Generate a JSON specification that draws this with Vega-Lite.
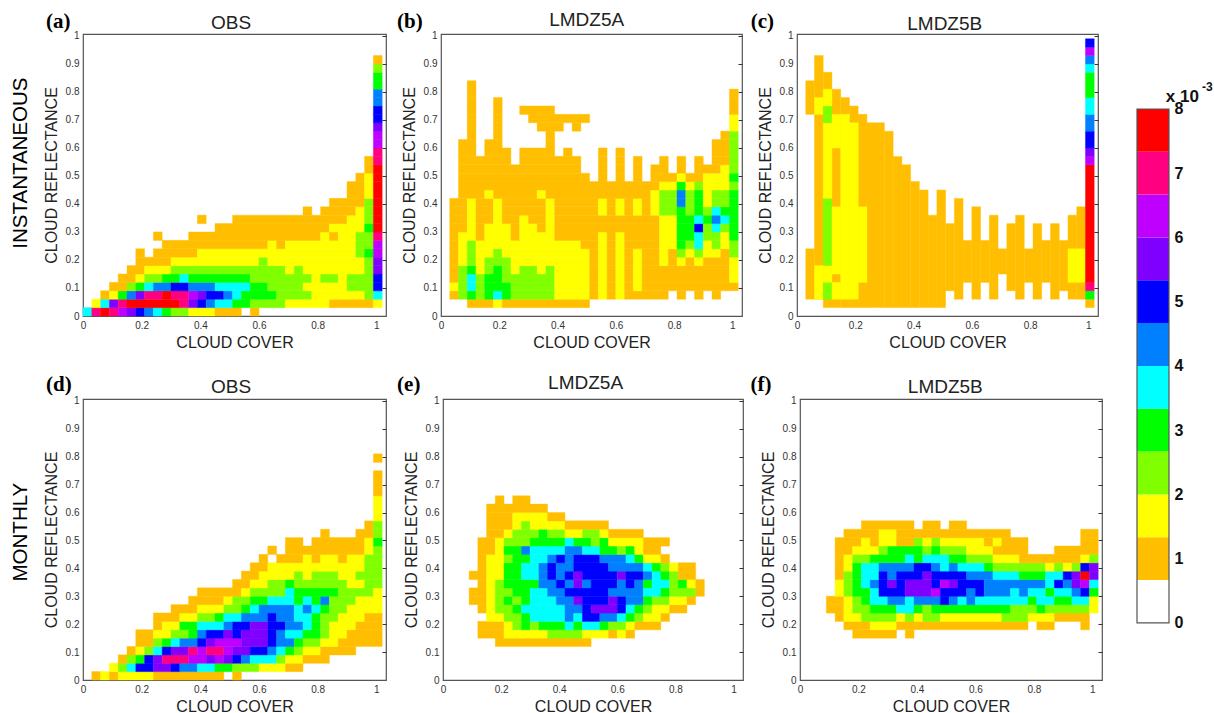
{"$schema":"https://vega.github.io/schema/vega-lite/v6.json","padding":{"left":10,"top":10,"right":0,"bottom":0},"background":"white","spacing":32,
"config":{"font":"Liberation Sans","view":{"stroke":"#555","strokeWidth":1.2},"range":{"ordinal":["#ffffff","#ffbf00","#ffff00","#80ff00","#00ff00","#00ffff","#0080ff","#0000ff","#8000ff","#bf00ff","#ff0080","#ff0000"]},"axis":{"grid":false,"domain":false,"ticks":false,"labelColor":"#333","labelFontSize":10,"labelPadding":4,"titleFontSize":16,"titleFontWeight":"normal","titleColor":"#222","labelFlush":false,"labelOverlap":false}},
"datasets":{
"a":[
{"x":0,"x2":0.03,"y":0,"v":5},{"x":0.03,"x2":0.06,"y":0,"v":10},{"x":0.06,"x2":0.09,"y":0,"v":11},{"x":0.09,"x2":0.12,"y":0,"v":10},{"x":0.12,"x2":0.15,"y":0,"v":9},{"x":0.15,"x2":0.18,"y":0,"v":8},{"x":0.18,"x2":0.21,"y":0,"v":7},{"x":0.21,"x2":0.24,"y":0,"v":6},{"x":0.24,"x2":0.27,"y":0,"v":5},{"x":0.27,"x2":0.3,"y":0,"v":4},{"x":0.3,"x2":0.36,"y":0,"v":3},{"x":0.36,"x2":0.45,"y":0,"v":2},{"x":0.45,"x2":0.54,"y":0,"v":1},{"x":0.57,"x2":0.6,"y":0,"v":1},
{"x":0.03,"x2":0.06,"y":0.03,"v":2},{"x":0.06,"x2":0.09,"y":0.03,"v":5},{"x":0.09,"x2":0.12,"y":0.03,"v":8},{"x":0.12,"x2":0.15,"y":0.03,"v":10},{"x":0.15,"x2":0.33,"y":0.03,"v":11},{"x":0.33,"x2":0.36,"y":0.03,"v":10},{"x":0.36,"x2":0.39,"y":0.03,"v":8},{"x":0.39,"x2":0.42,"y":0.03,"v":7},{"x":0.42,"x2":0.45,"y":0.03,"v":6},{"x":0.45,"x2":0.51,"y":0.03,"v":5},{"x":0.51,"x2":0.57,"y":0.03,"v":4},{"x":0.57,"x2":0.69,"y":0.03,"v":3},{"x":0.69,"x2":0.84,"y":0.03,"v":2},{"x":0.84,"x2":0.99,"y":0.03,"v":1},{"x":0.99,"x2":1.02,"y":0.03,"v":2},
{"x":0.06,"x2":0.09,"y":0.06,"v":1},{"x":0.09,"x2":0.12,"y":0.06,"v":2},{"x":0.12,"x2":0.15,"y":0.06,"v":4},{"x":0.15,"x2":0.18,"y":0.06,"v":6},{"x":0.18,"x2":0.21,"y":0.06,"v":8},{"x":0.21,"x2":0.27,"y":0.06,"v":10},{"x":0.27,"x2":0.3,"y":0.06,"v":11},{"x":0.3,"x2":0.36,"y":0.06,"v":10},{"x":0.36,"x2":0.39,"y":0.06,"v":9},{"x":0.39,"x2":0.42,"y":0.06,"v":8},{"x":0.42,"x2":0.48,"y":0.06,"v":7},{"x":0.48,"x2":0.51,"y":0.06,"v":6},{"x":0.51,"x2":0.54,"y":0.06,"v":5},{"x":0.54,"x2":0.66,"y":0.06,"v":4},{"x":0.66,"x2":0.78,"y":0.06,"v":3},{"x":0.78,"x2":0.96,"y":0.06,"v":2},{"x":0.96,"x2":0.99,"y":0.06,"v":3},{"x":0.99,"x2":1.02,"y":0.06,"v":5},
{"x":0.09,"x2":0.15,"y":0.09,"v":1},{"x":0.15,"x2":0.18,"y":0.09,"v":3},{"x":0.18,"x2":0.21,"y":0.09,"v":4},{"x":0.21,"x2":0.24,"y":0.09,"v":5},{"x":0.24,"x2":0.3,"y":0.09,"v":6},{"x":0.3,"x2":0.36,"y":0.09,"v":7},{"x":0.36,"x2":0.45,"y":0.09,"v":6},{"x":0.45,"x2":0.57,"y":0.09,"v":5},{"x":0.57,"x2":0.63,"y":0.09,"v":4},{"x":0.63,"x2":0.75,"y":0.09,"v":3},{"x":0.75,"x2":0.9,"y":0.09,"v":2},{"x":0.9,"x2":0.99,"y":0.09,"v":3},{"x":0.99,"x2":1.02,"y":0.09,"v":7},
{"x":0.12,"x2":0.18,"y":0.12,"v":1},{"x":0.18,"x2":0.21,"y":0.12,"v":2},{"x":0.21,"x2":0.27,"y":0.12,"v":3},{"x":0.27,"x2":0.33,"y":0.12,"v":4},{"x":0.33,"x2":0.36,"y":0.12,"v":5},{"x":0.36,"x2":0.57,"y":0.12,"v":4},{"x":0.57,"x2":0.78,"y":0.12,"v":3},{"x":0.78,"x2":0.81,"y":0.12,"v":2},{"x":0.81,"x2":0.87,"y":0.12,"v":3},{"x":0.87,"x2":0.9,"y":0.12,"v":2},{"x":0.9,"x2":0.99,"y":0.12,"v":3},{"x":0.99,"x2":1.02,"y":0.12,"v":7},
{"x":0.15,"x2":0.21,"y":0.15,"v":1},{"x":0.21,"x2":0.3,"y":0.15,"v":2},{"x":0.3,"x2":0.69,"y":0.15,"v":3},{"x":0.69,"x2":0.72,"y":0.15,"v":2},{"x":0.72,"x2":0.75,"y":0.15,"v":3},{"x":0.75,"x2":0.96,"y":0.15,"v":2},{"x":0.96,"x2":0.99,"y":0.15,"v":3},{"x":0.99,"x2":1.02,"y":0.15,"v":8},
{"x":0.18,"x2":0.3,"y":0.18,"v":1},{"x":0.3,"x2":0.6,"y":0.18,"v":2},{"x":0.6,"x2":0.63,"y":0.18,"v":3},{"x":0.63,"x2":0.96,"y":0.18,"v":2},{"x":0.96,"x2":0.99,"y":0.18,"v":3},{"x":0.99,"x2":1.02,"y":0.18,"v":8},
{"x":0.18,"x2":0.21,"y":0.21,"v":1},{"x":0.24,"x2":0.39,"y":0.21,"v":1},{"x":0.39,"x2":0.93,"y":0.21,"v":2},{"x":0.93,"x2":0.96,"y":0.21,"v":3},{"x":0.96,"x2":0.99,"y":0.21,"v":4},{"x":0.99,"x2":1.02,"y":0.21,"v":9},
{"x":0.27,"x2":0.63,"y":0.24,"v":1},{"x":0.63,"x2":0.66,"y":0.24,"v":2},{"x":0.66,"x2":0.69,"y":0.24,"v":1},{"x":0.69,"x2":0.93,"y":0.24,"v":2},{"x":0.93,"x2":0.99,"y":0.24,"v":3},{"x":0.99,"x2":1.02,"y":0.24,"v":9},
{"x":0.24,"x2":0.27,"y":0.27,"v":1},{"x":0.36,"x2":0.81,"y":0.27,"v":1},{"x":0.81,"x2":0.84,"y":0.27,"v":2},{"x":0.84,"x2":0.87,"y":0.27,"v":1},{"x":0.87,"x2":0.93,"y":0.27,"v":2},{"x":0.93,"x2":0.99,"y":0.27,"v":3},{"x":0.99,"x2":1.02,"y":0.27,"v":10},
{"x":0.45,"x2":0.84,"y":0.3,"v":1},{"x":0.84,"x2":0.96,"y":0.3,"v":2},{"x":0.96,"x2":0.99,"y":0.3,"v":4},{"x":0.99,"x2":1.02,"y":0.3,"v":11},
{"x":0.39,"x2":0.42,"y":0.33,"v":1},{"x":0.51,"x2":0.9,"y":0.33,"v":1},{"x":0.9,"x2":0.96,"y":0.33,"v":2},{"x":0.96,"x2":0.99,"y":0.33,"v":3},{"x":0.99,"x2":1.02,"y":0.33,"v":11},
{"x":0.75,"x2":0.78,"y":0.36,"v":1},{"x":0.81,"x2":0.93,"y":0.36,"v":1},{"x":0.93,"x2":0.96,"y":0.36,"v":2},{"x":0.96,"x2":0.99,"y":0.36,"v":3},{"x":0.99,"x2":1.02,"y":0.36,"v":11},
{"x":0.84,"x2":0.96,"y":0.39,"v":1},{"x":0.96,"x2":0.99,"y":0.39,"v":3},{"x":0.99,"x2":1.02,"y":0.39,"v":11},
{"x":0.9,"x2":0.96,"y":0.42,"v":1},{"x":0.96,"x2":0.99,"y":0.42,"v":2},{"x":0.99,"x2":1.02,"y":0.42,"v":11},
{"x":0.9,"x2":0.96,"y":0.45,"v":1},{"x":0.96,"x2":0.99,"y":0.45,"v":2},{"x":0.99,"x2":1.02,"y":0.45,"v":11},
{"x":0.93,"x2":0.96,"y":0.48,"v":1},{"x":0.96,"x2":0.99,"y":0.48,"v":2},{"x":0.99,"x2":1.02,"y":0.48,"v":11},
{"x":0.96,"x2":0.99,"y":0.51,"v":1},{"x":0.99,"x2":1.02,"y":0.51,"v":11},
{"x":0.96,"x2":0.99,"y":0.54,"v":1},{"x":0.99,"x2":1.02,"y":0.54,"v":10},
{"x":0.99,"x2":1.02,"y":0.57,"v":10},{"x":0.99,"x2":1.02,"y":0.6,"v":9},{"x":0.99,"x2":1.02,"y":0.63,"v":9},{"x":0.99,"x2":1.02,"y":0.66,"v":8},{"x":0.99,"x2":1.02,"y":0.69,"v":7},{"x":0.99,"x2":1.02,"y":0.72,"v":7},{"x":0.99,"x2":1.02,"y":0.75,"v":6},{"x":0.99,"x2":1.02,"y":0.78,"v":6},{"x":0.99,"x2":1.02,"y":0.81,"v":4},{"x":0.99,"x2":1.02,"y":0.84,"v":4},{"x":0.99,"x2":1.02,"y":0.87,"v":3},{"x":0.99,"x2":1.02,"y":0.9,"v":1}
],
"b":[
{"x":0.09,"x2":0.18,"y":0.03,"v":1},{"x":0.18,"x2":0.21,"y":0.03,"v":2},{"x":0.21,"x2":0.51,"y":0.03,"v":1},
{"x":0.03,"x2":0.06,"y":0.06,"v":1},{"x":0.06,"x2":0.09,"y":0.06,"v":3},{"x":0.09,"x2":0.12,"y":0.06,"v":4},{"x":0.12,"x2":0.15,"y":0.06,"v":3},{"x":0.15,"x2":0.18,"y":0.06,"v":4},{"x":0.18,"x2":0.21,"y":0.06,"v":5},{"x":0.21,"x2":0.24,"y":0.06,"v":4},{"x":0.24,"x2":0.39,"y":0.06,"v":3},{"x":0.39,"x2":0.51,"y":0.06,"v":2},{"x":0.51,"x2":0.54,"y":0.06,"v":1},{"x":0.54,"x2":0.57,"y":0.06,"v":2},{"x":0.57,"x2":0.6,"y":0.06,"v":1},{"x":0.6,"x2":0.63,"y":0.06,"v":2},{"x":0.63,"x2":0.78,"y":0.06,"v":1},{"x":0.81,"x2":0.84,"y":0.06,"v":1},{"x":0.87,"x2":0.9,"y":0.06,"v":1},{"x":0.93,"x2":0.96,"y":0.06,"v":1},
{"x":0.03,"x2":0.06,"y":0.09,"v":2},{"x":0.06,"x2":0.09,"y":0.09,"v":3},{"x":0.09,"x2":0.12,"y":0.09,"v":5},{"x":0.12,"x2":0.15,"y":0.09,"v":3},{"x":0.15,"x2":0.24,"y":0.09,"v":4},{"x":0.24,"x2":0.39,"y":0.09,"v":3},{"x":0.39,"x2":0.51,"y":0.09,"v":2},{"x":0.51,"x2":0.54,"y":0.09,"v":1},{"x":0.54,"x2":0.57,"y":0.09,"v":2},{"x":0.57,"x2":0.6,"y":0.09,"v":1},{"x":0.6,"x2":0.63,"y":0.09,"v":2},{"x":0.63,"x2":0.66,"y":0.09,"v":1},{"x":0.66,"x2":0.69,"y":0.09,"v":2},{"x":0.69,"x2":1.02,"y":0.09,"v":1},
{"x":0.03,"x2":0.06,"y":0.12,"v":1},{"x":0.06,"x2":0.09,"y":0.12,"v":3},{"x":0.09,"x2":0.12,"y":0.12,"v":5},{"x":0.12,"x2":0.15,"y":0.12,"v":3},{"x":0.15,"x2":0.21,"y":0.12,"v":4},{"x":0.21,"x2":0.39,"y":0.12,"v":3},{"x":0.39,"x2":0.51,"y":0.12,"v":2},{"x":0.51,"x2":0.54,"y":0.12,"v":1},{"x":0.54,"x2":0.57,"y":0.12,"v":2},{"x":0.57,"x2":0.6,"y":0.12,"v":1},{"x":0.6,"x2":0.63,"y":0.12,"v":2},{"x":0.63,"x2":0.66,"y":0.12,"v":1},{"x":0.66,"x2":0.69,"y":0.12,"v":2},{"x":0.69,"x2":0.99,"y":0.12,"v":1},{"x":0.99,"x2":1.02,"y":0.12,"v":2},
{"x":0.03,"x2":0.06,"y":0.15,"v":1},{"x":0.06,"x2":0.09,"y":0.15,"v":3},{"x":0.09,"x2":0.12,"y":0.15,"v":4},{"x":0.12,"x2":0.15,"y":0.15,"v":2},{"x":0.15,"x2":0.18,"y":0.15,"v":3},{"x":0.18,"x2":0.21,"y":0.15,"v":4},{"x":0.21,"x2":0.24,"y":0.15,"v":3},{"x":0.24,"x2":0.27,"y":0.15,"v":2},{"x":0.27,"x2":0.33,"y":0.15,"v":3},{"x":0.33,"x2":0.36,"y":0.15,"v":2},{"x":0.36,"x2":0.39,"y":0.15,"v":3},{"x":0.39,"x2":0.51,"y":0.15,"v":2},{"x":0.51,"x2":0.54,"y":0.15,"v":1},{"x":0.54,"x2":0.57,"y":0.15,"v":2},{"x":0.57,"x2":0.6,"y":0.15,"v":1},{"x":0.6,"x2":0.63,"y":0.15,"v":2},{"x":0.63,"x2":0.66,"y":0.15,"v":1},{"x":0.66,"x2":0.69,"y":0.15,"v":2},{"x":0.69,"x2":0.99,"y":0.15,"v":1},{"x":0.99,"x2":1.02,"y":0.15,"v":2},
{"x":0.03,"x2":0.06,"y":0.18,"v":1},{"x":0.06,"x2":0.09,"y":0.18,"v":2},{"x":0.09,"x2":0.12,"y":0.18,"v":3},{"x":0.12,"x2":0.15,"y":0.18,"v":2},{"x":0.15,"x2":0.24,"y":0.18,"v":3},{"x":0.24,"x2":0.51,"y":0.18,"v":2},{"x":0.51,"x2":0.54,"y":0.18,"v":1},{"x":0.54,"x2":0.57,"y":0.18,"v":2},{"x":0.57,"x2":0.6,"y":0.18,"v":1},{"x":0.6,"x2":0.63,"y":0.18,"v":2},{"x":0.63,"x2":0.66,"y":0.18,"v":1},{"x":0.66,"x2":0.69,"y":0.18,"v":2},{"x":0.69,"x2":0.75,"y":0.18,"v":1},{"x":0.75,"x2":0.78,"y":0.18,"v":2},{"x":0.78,"x2":0.81,"y":0.18,"v":1},{"x":0.81,"x2":0.84,"y":0.18,"v":2},{"x":0.84,"x2":0.87,"y":0.18,"v":1},{"x":0.87,"x2":0.9,"y":0.18,"v":2},{"x":0.9,"x2":0.99,"y":0.18,"v":1},{"x":0.99,"x2":1.02,"y":0.18,"v":2},
{"x":0.03,"x2":0.06,"y":0.21,"v":1},{"x":0.06,"x2":0.09,"y":0.21,"v":2},{"x":0.09,"x2":0.12,"y":0.21,"v":3},{"x":0.12,"x2":0.18,"y":0.21,"v":2},{"x":0.18,"x2":0.21,"y":0.21,"v":3},{"x":0.21,"x2":0.51,"y":0.21,"v":2},{"x":0.51,"x2":0.54,"y":0.21,"v":1},{"x":0.54,"x2":0.57,"y":0.21,"v":2},{"x":0.57,"x2":0.6,"y":0.21,"v":1},{"x":0.6,"x2":0.63,"y":0.21,"v":2},{"x":0.63,"x2":0.66,"y":0.21,"v":1},{"x":0.66,"x2":0.69,"y":0.21,"v":2},{"x":0.69,"x2":0.75,"y":0.21,"v":1},{"x":0.75,"x2":0.78,"y":0.21,"v":2},{"x":0.78,"x2":0.81,"y":0.21,"v":1},{"x":0.81,"x2":0.84,"y":0.21,"v":3},{"x":0.84,"x2":0.87,"y":0.21,"v":2},{"x":0.87,"x2":0.9,"y":0.21,"v":3},{"x":0.9,"x2":0.96,"y":0.21,"v":2},{"x":0.96,"x2":0.99,"y":0.21,"v":1},{"x":0.99,"x2":1.02,"y":0.21,"v":3},
{"x":0.03,"x2":0.06,"y":0.24,"v":1},{"x":0.06,"x2":0.09,"y":0.24,"v":2},{"x":0.09,"x2":0.12,"y":0.24,"v":3},{"x":0.12,"x2":0.48,"y":0.24,"v":2},{"x":0.48,"x2":0.54,"y":0.24,"v":1},{"x":0.54,"x2":0.57,"y":0.24,"v":2},{"x":0.57,"x2":0.6,"y":0.24,"v":1},{"x":0.6,"x2":0.63,"y":0.24,"v":2},{"x":0.63,"x2":0.75,"y":0.24,"v":1},{"x":0.75,"x2":0.81,"y":0.24,"v":2},{"x":0.81,"x2":0.84,"y":0.24,"v":4},{"x":0.84,"x2":0.87,"y":0.24,"v":3},{"x":0.87,"x2":0.9,"y":0.24,"v":5},{"x":0.9,"x2":0.93,"y":0.24,"v":2},{"x":0.93,"x2":0.96,"y":0.24,"v":3},{"x":0.96,"x2":0.99,"y":0.24,"v":2},{"x":0.99,"x2":1.02,"y":0.24,"v":3},
{"x":0.03,"x2":0.06,"y":0.27,"v":1},{"x":0.06,"x2":0.12,"y":0.27,"v":2},{"x":0.12,"x2":0.15,"y":0.27,"v":1},{"x":0.15,"x2":0.24,"y":0.27,"v":2},{"x":0.24,"x2":0.27,"y":0.27,"v":1},{"x":0.27,"x2":0.39,"y":0.27,"v":2},{"x":0.39,"x2":0.54,"y":0.27,"v":1},{"x":0.54,"x2":0.57,"y":0.27,"v":2},{"x":0.57,"x2":0.6,"y":0.27,"v":1},{"x":0.6,"x2":0.63,"y":0.27,"v":2},{"x":0.63,"x2":0.75,"y":0.27,"v":1},{"x":0.75,"x2":0.81,"y":0.27,"v":2},{"x":0.81,"x2":0.87,"y":0.27,"v":4},{"x":0.87,"x2":0.9,"y":0.27,"v":5},{"x":0.9,"x2":0.96,"y":0.27,"v":3},{"x":0.96,"x2":0.99,"y":0.27,"v":2},{"x":0.99,"x2":1.02,"y":0.27,"v":4},
{"x":0.03,"x2":0.09,"y":0.3,"v":1},{"x":0.09,"x2":0.12,"y":0.3,"v":2},{"x":0.12,"x2":0.15,"y":0.3,"v":1},{"x":0.15,"x2":0.24,"y":0.3,"v":2},{"x":0.24,"x2":0.27,"y":0.3,"v":1},{"x":0.27,"x2":0.33,"y":0.3,"v":2},{"x":0.33,"x2":0.36,"y":0.3,"v":1},{"x":0.36,"x2":0.39,"y":0.3,"v":2},{"x":0.39,"x2":0.75,"y":0.3,"v":1},{"x":0.75,"x2":0.81,"y":0.3,"v":2},{"x":0.81,"x2":0.87,"y":0.3,"v":4},{"x":0.87,"x2":0.9,"y":0.3,"v":7},{"x":0.9,"x2":0.93,"y":0.3,"v":3},{"x":0.93,"x2":0.96,"y":0.3,"v":5},{"x":0.96,"x2":0.99,"y":0.3,"v":3},{"x":0.99,"x2":1.02,"y":0.3,"v":4},
{"x":0.03,"x2":0.09,"y":0.33,"v":1},{"x":0.09,"x2":0.12,"y":0.33,"v":2},{"x":0.12,"x2":0.18,"y":0.33,"v":1},{"x":0.18,"x2":0.21,"y":0.33,"v":2},{"x":0.21,"x2":0.27,"y":0.33,"v":1},{"x":0.27,"x2":0.3,"y":0.33,"v":2},{"x":0.3,"x2":0.36,"y":0.33,"v":1},{"x":0.36,"x2":0.39,"y":0.33,"v":2},{"x":0.39,"x2":0.75,"y":0.33,"v":1},{"x":0.75,"x2":0.81,"y":0.33,"v":2},{"x":0.81,"x2":0.87,"y":0.33,"v":4},{"x":0.87,"x2":0.9,"y":0.33,"v":5},{"x":0.9,"x2":0.93,"y":0.33,"v":4},{"x":0.93,"x2":0.96,"y":0.33,"v":6},{"x":0.96,"x2":0.99,"y":0.33,"v":5},{"x":0.99,"x2":1.02,"y":0.33,"v":4},
{"x":0.03,"x2":0.09,"y":0.36,"v":1},{"x":0.09,"x2":0.12,"y":0.36,"v":2},{"x":0.12,"x2":0.18,"y":0.36,"v":1},{"x":0.18,"x2":0.21,"y":0.36,"v":2},{"x":0.21,"x2":0.36,"y":0.36,"v":1},{"x":0.36,"x2":0.39,"y":0.36,"v":2},{"x":0.39,"x2":0.54,"y":0.36,"v":1},{"x":0.54,"x2":0.57,"y":0.36,"v":2},{"x":0.57,"x2":0.6,"y":0.36,"v":1},{"x":0.6,"x2":0.63,"y":0.36,"v":2},{"x":0.63,"x2":0.66,"y":0.36,"v":1},{"x":0.66,"x2":0.69,"y":0.36,"v":2},{"x":0.69,"x2":0.72,"y":0.36,"v":1},{"x":0.72,"x2":0.75,"y":0.36,"v":2},{"x":0.75,"x2":0.81,"y":0.36,"v":3},{"x":0.81,"x2":0.84,"y":0.36,"v":4},{"x":0.84,"x2":0.87,"y":0.36,"v":3},{"x":0.87,"x2":0.9,"y":0.36,"v":4},{"x":0.9,"x2":0.93,"y":0.36,"v":3},{"x":0.93,"x2":0.96,"y":0.36,"v":5},{"x":0.96,"x2":1.02,"y":0.36,"v":4},
{"x":0.03,"x2":0.09,"y":0.39,"v":1},{"x":0.09,"x2":0.12,"y":0.39,"v":2},{"x":0.12,"x2":0.18,"y":0.39,"v":1},{"x":0.18,"x2":0.21,"y":0.39,"v":2},{"x":0.21,"x2":0.36,"y":0.39,"v":1},{"x":0.36,"x2":0.39,"y":0.39,"v":2},{"x":0.39,"x2":0.54,"y":0.39,"v":1},{"x":0.54,"x2":0.57,"y":0.39,"v":2},{"x":0.57,"x2":0.6,"y":0.39,"v":1},{"x":0.6,"x2":0.63,"y":0.39,"v":2},{"x":0.63,"x2":0.66,"y":0.39,"v":1},{"x":0.66,"x2":0.69,"y":0.39,"v":2},{"x":0.69,"x2":0.72,"y":0.39,"v":1},{"x":0.72,"x2":0.75,"y":0.39,"v":2},{"x":0.75,"x2":0.81,"y":0.39,"v":3},{"x":0.81,"x2":0.84,"y":0.39,"v":6},{"x":0.84,"x2":0.87,"y":0.39,"v":3},{"x":0.87,"x2":0.9,"y":0.39,"v":4},{"x":0.9,"x2":0.93,"y":0.39,"v":2},{"x":0.93,"x2":0.99,"y":0.39,"v":3},{"x":0.99,"x2":1.02,"y":0.39,"v":4},
{"x":0.06,"x2":0.15,"y":0.42,"v":1},{"x":0.15,"x2":0.18,"y":0.42,"v":2},{"x":0.18,"x2":0.33,"y":0.42,"v":1},{"x":0.33,"x2":0.36,"y":0.42,"v":2},{"x":0.36,"x2":0.72,"y":0.42,"v":1},{"x":0.72,"x2":0.75,"y":0.42,"v":2},{"x":0.75,"x2":0.81,"y":0.42,"v":3},{"x":0.81,"x2":0.84,"y":0.42,"v":6},{"x":0.84,"x2":0.87,"y":0.42,"v":3},{"x":0.87,"x2":0.9,"y":0.42,"v":4},{"x":0.9,"x2":0.93,"y":0.42,"v":2},{"x":0.93,"x2":0.99,"y":0.42,"v":3},{"x":0.99,"x2":1.02,"y":0.42,"v":4},
{"x":0.06,"x2":0.75,"y":0.45,"v":1},{"x":0.75,"x2":0.81,"y":0.45,"v":2},{"x":0.81,"x2":0.84,"y":0.45,"v":4},{"x":0.84,"x2":0.87,"y":0.45,"v":2},{"x":0.87,"x2":0.9,"y":0.45,"v":3},{"x":0.9,"x2":0.99,"y":0.45,"v":2},{"x":0.99,"x2":1.02,"y":0.45,"v":3},
{"x":0.06,"x2":0.51,"y":0.48,"v":1},{"x":0.54,"x2":0.57,"y":0.48,"v":1},{"x":0.6,"x2":0.63,"y":0.48,"v":1},{"x":0.66,"x2":0.69,"y":0.48,"v":1},{"x":0.72,"x2":0.81,"y":0.48,"v":1},{"x":0.81,"x2":0.84,"y":0.48,"v":2},{"x":0.84,"x2":0.9,"y":0.48,"v":1},{"x":0.9,"x2":0.99,"y":0.48,"v":2},{"x":0.99,"x2":1.02,"y":0.48,"v":4},
{"x":0.06,"x2":0.48,"y":0.51,"v":1},{"x":0.54,"x2":0.57,"y":0.51,"v":1},{"x":0.6,"x2":0.63,"y":0.51,"v":1},{"x":0.66,"x2":0.69,"y":0.51,"v":1},{"x":0.72,"x2":0.78,"y":0.51,"v":1},{"x":0.81,"x2":0.84,"y":0.51,"v":1},{"x":0.87,"x2":0.96,"y":0.51,"v":1},{"x":0.96,"x2":0.99,"y":0.51,"v":2},{"x":0.99,"x2":1.02,"y":0.51,"v":3},
{"x":0.06,"x2":0.24,"y":0.54,"v":1},{"x":0.27,"x2":0.48,"y":0.54,"v":1},{"x":0.54,"x2":0.57,"y":0.54,"v":1},{"x":0.6,"x2":0.63,"y":0.54,"v":1},{"x":0.66,"x2":0.69,"y":0.54,"v":1},{"x":0.75,"x2":0.78,"y":0.54,"v":1},{"x":0.81,"x2":0.84,"y":0.54,"v":1},{"x":0.87,"x2":0.9,"y":0.54,"v":1},{"x":0.93,"x2":0.99,"y":0.54,"v":1},{"x":0.99,"x2":1.02,"y":0.54,"v":3},
{"x":0.06,"x2":0.12,"y":0.57,"v":1},{"x":0.15,"x2":0.24,"y":0.57,"v":1},{"x":0.27,"x2":0.39,"y":0.57,"v":1},{"x":0.42,"x2":0.45,"y":0.57,"v":1},{"x":0.54,"x2":0.57,"y":0.57,"v":1},{"x":0.6,"x2":0.63,"y":0.57,"v":1},{"x":0.93,"x2":0.99,"y":0.57,"v":1},{"x":0.99,"x2":1.02,"y":0.57,"v":3},
{"x":0.06,"x2":0.12,"y":0.6,"v":1},{"x":0.15,"x2":0.21,"y":0.6,"v":1},{"x":0.36,"x2":0.39,"y":0.6,"v":1},{"x":0.93,"x2":0.99,"y":0.6,"v":1},{"x":0.99,"x2":1.02,"y":0.6,"v":3},
{"x":0.09,"x2":0.12,"y":0.63,"v":1},{"x":0.18,"x2":0.21,"y":0.63,"v":1},{"x":0.36,"x2":0.39,"y":0.63,"v":1},{"x":0.96,"x2":0.99,"y":0.63,"v":1},{"x":0.99,"x2":1.02,"y":0.63,"v":3},
{"x":0.09,"x2":0.12,"y":0.66,"v":1},{"x":0.18,"x2":0.21,"y":0.66,"v":1},{"x":0.33,"x2":0.42,"y":0.66,"v":1},{"x":0.45,"x2":0.48,"y":0.66,"v":1},{"x":0.99,"x2":1.02,"y":0.66,"v":2},
{"x":0.09,"x2":0.12,"y":0.69,"v":1},{"x":0.18,"x2":0.21,"y":0.69,"v":1},{"x":0.3,"x2":0.51,"y":0.69,"v":1},{"x":0.99,"x2":1.02,"y":0.69,"v":2},
{"x":0.09,"x2":0.12,"y":0.72,"v":1},{"x":0.18,"x2":0.21,"y":0.72,"v":1},{"x":0.27,"x2":0.39,"y":0.72,"v":1},{"x":0.99,"x2":1.02,"y":0.72,"v":1},
{"x":0.09,"x2":0.12,"y":0.75,"v":1},{"x":0.18,"x2":0.21,"y":0.75,"v":1},{"x":0.99,"x2":1.02,"y":0.75,"v":1},
{"x":0.09,"x2":0.12,"y":0.78,"v":1},{"x":0.99,"x2":1.02,"y":0.78,"v":1},
{"x":0.09,"x2":0.12,"y":0.81,"v":1}
],
"c":[
{"x":0.03,"x2":0.06,"y":0.06,"y2":0.24,"v":1},{"x":0.03,"x2":0.06,"y":0.72,"y2":0.84,"v":1},{"x":0.06,"x2":0.09,"y":0.06,"y2":0.93,"v":1},{"x":0.09,"x2":0.12,"y":0.03,"y2":0.87,"v":1},{"x":0.12,"x2":0.15,"y":0.03,"y2":0.81,"v":1},{"x":0.15,"x2":0.18,"y":0.03,"y2":0.78,"v":1},{"x":0.18,"x2":0.21,"y":0.03,"y2":0.75,"v":1},{"x":0.21,"x2":0.24,"y":0.03,"y2":0.72,"v":1},{"x":0.24,"x2":0.3,"y":0.03,"y2":0.69,"v":1},{"x":0.3,"x2":0.33,"y":0.03,"y2":0.66,"v":1},{"x":0.33,"x2":0.36,"y":0.03,"y2":0.57,"v":1},{"x":0.36,"x2":0.39,"y":0.03,"y2":0.54,"v":1},{"x":0.39,"x2":0.42,"y":0.03,"y2":0.48,"v":1},{"x":0.42,"x2":0.45,"y":0.03,"y2":0.45,"v":1},{"x":0.45,"x2":0.48,"y":0.03,"y2":0.36,"v":1},{"x":0.48,"x2":0.51,"y":0.03,"y2":0.45,"v":1},{"x":0.51,"x2":0.54,"y":0.09,"y2":0.33,"v":1},{"x":0.54,"x2":0.57,"y":0.06,"y2":0.42,"v":1},{"x":0.57,"x2":0.6,"y":0.12,"y2":0.27,"v":1},{"x":0.6,"x2":0.63,"y":0.06,"y2":0.39,"v":1},{"x":0.63,"x2":0.66,"y":0.12,"y2":0.27,"v":1},{"x":0.66,"x2":0.69,"y":0.06,"y2":0.36,"v":1},{"x":0.69,"x2":0.72,"y":0.15,"y2":0.24,"v":1},{"x":0.72,"x2":0.75,"y":0.09,"y2":0.33,"v":1},{"x":0.75,"x2":0.78,"y":0.06,"y2":0.36,"v":1},{"x":0.78,"x2":0.81,"y":0.12,"y2":0.24,"v":1},{"x":0.81,"x2":0.84,"y":0.06,"y2":0.33,"v":1},{"x":0.84,"x2":0.87,"y":0.12,"y2":0.27,"v":1},{"x":0.87,"x2":0.9,"y":0.06,"y2":0.33,"v":1},{"x":0.9,"x2":0.93,"y":0.09,"y2":0.27,"v":1},{"x":0.93,"x2":0.96,"y":0.06,"y2":0.36,"v":1},{"x":0.96,"x2":0.99,"y":0.06,"y2":0.39,"v":1},
{"x":0.06,"x2":0.09,"y":0.06,"y2":0.18,"v":2},{"x":0.06,"x2":0.09,"y":0.72,"y2":0.78,"v":2},{"x":0.09,"x2":0.12,"y":0.06,"y2":0.12,"v":3},{"x":0.09,"x2":0.12,"y":0.12,"y2":0.18,"v":2},{"x":0.09,"x2":0.12,"y":0.18,"y2":0.42,"v":3},{"x":0.09,"x2":0.12,"y":0.42,"y2":0.69,"v":2},{"x":0.09,"x2":0.12,"y":0.69,"y2":0.75,"v":3},{"x":0.09,"x2":0.12,"y":0.75,"y2":0.81,"v":2},{"x":0.12,"x2":0.15,"y":0.06,"y2":0.12,"v":2},{"x":0.12,"x2":0.15,"y":0.15,"y2":0.39,"v":2},{"x":0.12,"x2":0.15,"y":0.6,"y2":0.72,"v":2},{"x":0.15,"x2":0.18,"y":0.06,"y2":0.72,"v":2},{"x":0.18,"x2":0.21,"y":0.06,"y2":0.69,"v":2},{"x":0.21,"x2":0.24,"y":0.12,"y2":0.39,"v":2},{"x":0.93,"x2":0.99,"y":0.12,"y2":0.24,"v":2},
{"x":0.99,"x2":1.02,"y":0.03,"y2":0.06,"v":1},{"x":0.99,"x2":1.02,"y":0.06,"y2":0.09,"v":4},{"x":0.99,"x2":1.02,"y":0.09,"y2":0.12,"v":10},{"x":0.99,"x2":1.02,"y":0.12,"y2":0.54,"v":11},{"x":0.99,"x2":1.02,"y":0.54,"y2":0.57,"v":9},{"x":0.99,"x2":1.02,"y":0.57,"y2":0.6,"v":8},{"x":0.99,"x2":1.02,"y":0.6,"y2":0.66,"v":7},{"x":0.99,"x2":1.02,"y":0.66,"y2":0.72,"v":6},{"x":0.99,"x2":1.02,"y":0.72,"y2":0.78,"v":5},{"x":0.99,"x2":1.02,"y":0.78,"y2":0.87,"v":4},{"x":0.99,"x2":1.02,"y":0.87,"y2":0.9,"v":5},{"x":0.99,"x2":1.02,"y":0.9,"y2":0.93,"v":6},{"x":0.99,"x2":1.02,"y":0.93,"y2":0.96,"v":9},{"x":0.99,"x2":1.02,"y":0.96,"y2":0.99,"v":7}
],
"d":[
{"x":0.03,"x2":0.06,"y":0,"v":1},{"x":0.06,"x2":0.09,"y":0,"v":2},{"x":0.09,"x2":0.12,"y":0,"v":1},{"x":0.12,"x2":0.24,"y":0,"v":2},{"x":0.24,"x2":0.48,"y":0,"v":1},{"x":0.51,"x2":0.54,"y":0,"v":1},
{"x":0.09,"x2":0.12,"y":0.03,"v":2},{"x":0.12,"x2":0.15,"y":0.03,"v":3},{"x":0.15,"x2":0.18,"y":0.03,"v":5},{"x":0.18,"x2":0.24,"y":0.03,"v":7},{"x":0.24,"x2":0.3,"y":0.03,"v":8},{"x":0.3,"x2":0.33,"y":0.03,"v":7},{"x":0.33,"x2":0.39,"y":0.03,"v":6},{"x":0.39,"x2":0.45,"y":0.03,"v":5},{"x":0.45,"x2":0.51,"y":0.03,"v":4},{"x":0.51,"x2":0.6,"y":0.03,"v":3},{"x":0.6,"x2":0.69,"y":0.03,"v":2},{"x":0.69,"x2":0.75,"y":0.03,"v":1},
{"x":0.12,"x2":0.15,"y":0.06,"v":1},{"x":0.15,"x2":0.18,"y":0.06,"v":3},{"x":0.18,"x2":0.21,"y":0.06,"v":4},{"x":0.21,"x2":0.24,"y":0.06,"v":7},{"x":0.24,"x2":0.27,"y":0.06,"v":8},{"x":0.27,"x2":0.36,"y":0.06,"v":10},{"x":0.36,"x2":0.42,"y":0.06,"v":9},{"x":0.42,"x2":0.45,"y":0.06,"v":8},{"x":0.45,"x2":0.48,"y":0.06,"v":9},{"x":0.48,"x2":0.51,"y":0.06,"v":8},{"x":0.51,"x2":0.54,"y":0.06,"v":7},{"x":0.54,"x2":0.57,"y":0.06,"v":6},{"x":0.57,"x2":0.66,"y":0.06,"v":5},{"x":0.66,"x2":0.69,"y":0.06,"v":3},{"x":0.69,"x2":0.75,"y":0.06,"v":2},{"x":0.75,"x2":0.84,"y":0.06,"v":1},
{"x":0.15,"x2":0.18,"y":0.09,"v":1},{"x":0.18,"x2":0.21,"y":0.09,"v":2},{"x":0.21,"x2":0.24,"y":0.09,"v":3},{"x":0.24,"x2":0.27,"y":0.09,"v":5},{"x":0.27,"x2":0.3,"y":0.09,"v":7},{"x":0.3,"x2":0.36,"y":0.09,"v":8},{"x":0.36,"x2":0.39,"y":0.09,"v":10},{"x":0.39,"x2":0.42,"y":0.09,"v":9},{"x":0.42,"x2":0.48,"y":0.09,"v":10},{"x":0.48,"x2":0.51,"y":0.09,"v":9},{"x":0.51,"x2":0.57,"y":0.09,"v":8},{"x":0.57,"x2":0.63,"y":0.09,"v":7},{"x":0.63,"x2":0.66,"y":0.09,"v":6},{"x":0.66,"x2":0.69,"y":0.09,"v":5},{"x":0.69,"x2":0.72,"y":0.09,"v":4},{"x":0.72,"x2":0.75,"y":0.09,"v":3},{"x":0.75,"x2":0.81,"y":0.09,"v":2},{"x":0.81,"x2":0.93,"y":0.09,"v":1},
{"x":0.18,"x2":0.24,"y":0.12,"v":1},{"x":0.24,"x2":0.27,"y":0.12,"v":3},{"x":0.27,"x2":0.3,"y":0.12,"v":4},{"x":0.3,"x2":0.33,"y":0.12,"v":5},{"x":0.33,"x2":0.39,"y":0.12,"v":6},{"x":0.39,"x2":0.42,"y":0.12,"v":7},{"x":0.42,"x2":0.45,"y":0.12,"v":8},{"x":0.45,"x2":0.54,"y":0.12,"v":9},{"x":0.54,"x2":0.63,"y":0.12,"v":8},{"x":0.63,"x2":0.66,"y":0.12,"v":7},{"x":0.66,"x2":0.72,"y":0.12,"v":6},{"x":0.72,"x2":0.75,"y":0.12,"v":4},{"x":0.75,"x2":0.81,"y":0.12,"v":3},{"x":0.81,"x2":0.87,"y":0.12,"v":2},{"x":0.87,"x2":1.02,"y":0.12,"v":1},
{"x":0.18,"x2":0.24,"y":0.15,"v":1},{"x":0.24,"x2":0.3,"y":0.15,"v":2},{"x":0.3,"x2":0.36,"y":0.15,"v":3},{"x":0.36,"x2":0.39,"y":0.15,"v":4},{"x":0.39,"x2":0.42,"y":0.15,"v":6},{"x":0.42,"x2":0.48,"y":0.15,"v":7},{"x":0.48,"x2":0.51,"y":0.15,"v":8},{"x":0.51,"x2":0.54,"y":0.15,"v":7},{"x":0.54,"x2":0.63,"y":0.15,"v":8},{"x":0.63,"x2":0.66,"y":0.15,"v":7},{"x":0.66,"x2":0.69,"y":0.15,"v":6},{"x":0.69,"x2":0.75,"y":0.15,"v":5},{"x":0.75,"x2":0.81,"y":0.15,"v":4},{"x":0.81,"x2":0.84,"y":0.15,"v":3},{"x":0.84,"x2":0.9,"y":0.15,"v":2},{"x":0.9,"x2":1.02,"y":0.15,"v":1},
{"x":0.24,"x2":0.27,"y":0.18,"v":1},{"x":0.27,"x2":0.33,"y":0.18,"v":2},{"x":0.33,"x2":0.39,"y":0.18,"v":4},{"x":0.39,"x2":0.48,"y":0.18,"v":5},{"x":0.48,"x2":0.51,"y":0.18,"v":6},{"x":0.51,"x2":0.57,"y":0.18,"v":7},{"x":0.57,"x2":0.63,"y":0.18,"v":8},{"x":0.63,"x2":0.69,"y":0.18,"v":7},{"x":0.69,"x2":0.75,"y":0.18,"v":6},{"x":0.75,"x2":0.78,"y":0.18,"v":5},{"x":0.78,"x2":0.81,"y":0.18,"v":4},{"x":0.81,"x2":0.84,"y":0.18,"v":3},{"x":0.84,"x2":0.93,"y":0.18,"v":2},{"x":0.93,"x2":1.02,"y":0.18,"v":1},
{"x":0.24,"x2":0.33,"y":0.21,"v":1},{"x":0.33,"x2":0.39,"y":0.21,"v":2},{"x":0.39,"x2":0.45,"y":0.21,"v":3},{"x":0.45,"x2":0.48,"y":0.21,"v":4},{"x":0.48,"x2":0.54,"y":0.21,"v":5},{"x":0.54,"x2":0.63,"y":0.21,"v":6},{"x":0.63,"x2":0.66,"y":0.21,"v":7},{"x":0.66,"x2":0.72,"y":0.21,"v":6},{"x":0.72,"x2":0.78,"y":0.21,"v":5},{"x":0.78,"x2":0.81,"y":0.21,"v":4},{"x":0.81,"x2":0.87,"y":0.21,"v":3},{"x":0.87,"x2":0.96,"y":0.21,"v":2},{"x":0.96,"x2":1.02,"y":0.21,"v":1},
{"x":0.3,"x2":0.39,"y":0.24,"v":1},{"x":0.39,"x2":0.48,"y":0.24,"v":2},{"x":0.48,"x2":0.54,"y":0.24,"v":3},{"x":0.54,"x2":0.57,"y":0.24,"v":4},{"x":0.57,"x2":0.6,"y":0.24,"v":5},{"x":0.6,"x2":0.72,"y":0.24,"v":6},{"x":0.72,"x2":0.75,"y":0.24,"v":5},{"x":0.75,"x2":0.78,"y":0.24,"v":6},{"x":0.78,"x2":0.81,"y":0.24,"v":5},{"x":0.81,"x2":0.84,"y":0.24,"v":4},{"x":0.84,"x2":0.9,"y":0.24,"v":3},{"x":0.9,"x2":1.02,"y":0.24,"v":2},
{"x":0.36,"x2":0.48,"y":0.27,"v":1},{"x":0.48,"x2":0.51,"y":0.27,"v":2},{"x":0.51,"x2":0.57,"y":0.27,"v":3},{"x":0.57,"x2":0.63,"y":0.27,"v":4},{"x":0.63,"x2":0.72,"y":0.27,"v":5},{"x":0.72,"x2":0.75,"y":0.27,"v":4},{"x":0.75,"x2":0.78,"y":0.27,"v":5},{"x":0.78,"x2":0.81,"y":0.27,"v":4},{"x":0.81,"x2":0.84,"y":0.27,"v":6},{"x":0.84,"x2":0.93,"y":0.27,"v":3},{"x":0.93,"x2":1.02,"y":0.27,"v":2},
{"x":0.39,"x2":0.54,"y":0.3,"v":1},{"x":0.54,"x2":0.57,"y":0.3,"v":2},{"x":0.57,"x2":0.69,"y":0.3,"v":3},{"x":0.69,"x2":0.72,"y":0.3,"v":5},{"x":0.72,"x2":0.87,"y":0.3,"v":4},{"x":0.87,"x2":0.99,"y":0.3,"v":3},{"x":0.99,"x2":1.02,"y":0.3,"v":2},
{"x":0.51,"x2":0.57,"y":0.33,"v":1},{"x":0.57,"x2":0.63,"y":0.33,"v":2},{"x":0.63,"x2":0.69,"y":0.33,"v":3},{"x":0.69,"x2":0.72,"y":0.33,"v":4},{"x":0.72,"x2":0.9,"y":0.33,"v":3},{"x":0.9,"x2":0.96,"y":0.33,"v":2},{"x":0.96,"x2":1.02,"y":0.33,"v":3},
{"x":0.54,"x2":0.6,"y":0.36,"v":1},{"x":0.6,"x2":0.72,"y":0.36,"v":2},{"x":0.72,"x2":0.75,"y":0.36,"v":3},{"x":0.75,"x2":0.78,"y":0.36,"v":2},{"x":0.78,"x2":0.87,"y":0.36,"v":3},{"x":0.87,"x2":0.93,"y":0.36,"v":2},{"x":0.93,"x2":1.02,"y":0.36,"v":3},
{"x":0.57,"x2":0.63,"y":0.39,"v":1},{"x":0.63,"x2":0.96,"y":0.39,"v":2},{"x":0.96,"x2":1.02,"y":0.39,"v":3},
{"x":0.6,"x2":0.63,"y":0.42,"v":1},{"x":0.66,"x2":0.75,"y":0.42,"v":1},{"x":0.75,"x2":0.78,"y":0.42,"v":2},{"x":0.78,"x2":0.81,"y":0.42,"v":1},{"x":0.81,"x2":0.87,"y":0.42,"v":2},{"x":0.87,"x2":0.9,"y":0.42,"v":1},{"x":0.9,"x2":0.96,"y":0.42,"v":2},{"x":0.96,"x2":1.02,"y":0.42,"v":3},
{"x":0.63,"x2":0.66,"y":0.45,"v":1},{"x":0.69,"x2":0.96,"y":0.45,"v":1},{"x":0.96,"x2":0.99,"y":0.45,"v":2},{"x":0.99,"x2":1.02,"y":0.45,"v":3},
{"x":0.69,"x2":0.75,"y":0.48,"v":1},{"x":0.78,"x2":0.96,"y":0.48,"v":1},{"x":0.96,"x2":0.99,"y":0.48,"v":2},{"x":0.99,"x2":1.02,"y":0.48,"v":4},
{"x":0.81,"x2":0.84,"y":0.51,"v":1},{"x":0.93,"x2":0.99,"y":0.51,"v":1},{"x":0.99,"x2":1.02,"y":0.51,"v":3},
{"x":0.96,"x2":0.99,"y":0.54,"v":1},{"x":0.99,"x2":1.02,"y":0.54,"v":3},
{"x":0.99,"x2":1.02,"y":0.57,"v":2},{"x":0.99,"x2":1.02,"y":0.6,"v":2},{"x":0.99,"x2":1.02,"y":0.63,"v":2},{"x":0.99,"x2":1.02,"y":0.66,"v":1},{"x":0.99,"x2":1.02,"y":0.69,"v":1},{"x":0.99,"x2":1.02,"y":0.72,"v":1},{"x":0.99,"x2":1.02,"y":0.78,"v":1}
],
"e":[
{"x":0.18,"x2":0.51,"y":0.12,"v":1},
{"x":0.12,"x2":0.21,"y":0.15,"v":1},{"x":0.21,"x2":0.36,"y":0.15,"v":2},{"x":0.36,"x2":0.48,"y":0.15,"v":3},{"x":0.48,"x2":0.57,"y":0.15,"v":2},{"x":0.57,"x2":0.6,"y":0.15,"v":1},{"x":0.6,"x2":0.63,"y":0.15,"v":2},{"x":0.63,"x2":0.66,"y":0.15,"v":1},
{"x":0.12,"x2":0.21,"y":0.18,"v":1},{"x":0.21,"x2":0.24,"y":0.18,"v":2},{"x":0.24,"x2":0.27,"y":0.18,"v":3},{"x":0.27,"x2":0.3,"y":0.18,"v":4},{"x":0.3,"x2":0.33,"y":0.18,"v":3},{"x":0.33,"x2":0.42,"y":0.18,"v":4},{"x":0.42,"x2":0.45,"y":0.18,"v":5},{"x":0.45,"x2":0.48,"y":0.18,"v":4},{"x":0.48,"x2":0.54,"y":0.18,"v":5},{"x":0.54,"x2":0.57,"y":0.18,"v":4},{"x":0.57,"x2":0.63,"y":0.18,"v":3},{"x":0.63,"x2":0.66,"y":0.18,"v":2},{"x":0.66,"x2":0.75,"y":0.18,"v":1},
{"x":0.15,"x2":0.21,"y":0.21,"v":2},{"x":0.21,"x2":0.27,"y":0.21,"v":3},{"x":0.27,"x2":0.3,"y":0.21,"v":4},{"x":0.3,"x2":0.42,"y":0.21,"v":5},{"x":0.42,"x2":0.45,"y":0.21,"v":6},{"x":0.45,"x2":0.48,"y":0.21,"v":5},{"x":0.48,"x2":0.54,"y":0.21,"v":7},{"x":0.54,"x2":0.6,"y":0.21,"v":6},{"x":0.6,"x2":0.63,"y":0.21,"v":5},{"x":0.63,"x2":0.66,"y":0.21,"v":4},{"x":0.66,"x2":0.69,"y":0.21,"v":3},{"x":0.69,"x2":0.75,"y":0.21,"v":2},{"x":0.75,"x2":0.78,"y":0.21,"v":1},
{"x":0.12,"x2":0.15,"y":0.24,"v":1},{"x":0.15,"x2":0.18,"y":0.24,"v":2},{"x":0.18,"x2":0.24,"y":0.24,"v":3},{"x":0.24,"x2":0.27,"y":0.24,"v":4},{"x":0.27,"x2":0.42,"y":0.24,"v":5},{"x":0.42,"x2":0.48,"y":0.24,"v":6},{"x":0.48,"x2":0.51,"y":0.24,"v":7},{"x":0.51,"x2":0.6,"y":0.24,"v":8},{"x":0.6,"x2":0.63,"y":0.24,"v":7},{"x":0.63,"x2":0.66,"y":0.24,"v":5},{"x":0.66,"x2":0.69,"y":0.24,"v":4},{"x":0.69,"x2":0.72,"y":0.24,"v":3},{"x":0.72,"x2":0.78,"y":0.24,"v":2},{"x":0.78,"x2":0.84,"y":0.24,"v":1},
{"x":0.09,"x2":0.15,"y":0.27,"v":1},{"x":0.15,"x2":0.18,"y":0.27,"v":2},{"x":0.18,"x2":0.21,"y":0.27,"v":3},{"x":0.21,"x2":0.24,"y":0.27,"v":4},{"x":0.24,"x2":0.27,"y":0.27,"v":3},{"x":0.27,"x2":0.3,"y":0.27,"v":4},{"x":0.3,"x2":0.39,"y":0.27,"v":5},{"x":0.39,"x2":0.45,"y":0.27,"v":6},{"x":0.45,"x2":0.48,"y":0.27,"v":8},{"x":0.48,"x2":0.57,"y":0.27,"v":7},{"x":0.57,"x2":0.6,"y":0.27,"v":8},{"x":0.6,"x2":0.63,"y":0.27,"v":7},{"x":0.63,"x2":0.69,"y":0.27,"v":6},{"x":0.69,"x2":0.72,"y":0.27,"v":4},{"x":0.72,"x2":0.78,"y":0.27,"v":3},{"x":0.78,"x2":0.84,"y":0.27,"v":2},{"x":0.84,"x2":0.87,"y":0.27,"v":1},
{"x":0.09,"x2":0.15,"y":0.3,"v":1},{"x":0.15,"x2":0.18,"y":0.3,"v":2},{"x":0.18,"x2":0.24,"y":0.3,"v":3},{"x":0.24,"x2":0.3,"y":0.3,"v":4},{"x":0.3,"x2":0.36,"y":0.3,"v":5},{"x":0.36,"x2":0.42,"y":0.3,"v":6},{"x":0.42,"x2":0.57,"y":0.3,"v":7},{"x":0.57,"x2":0.69,"y":0.3,"v":6},{"x":0.69,"x2":0.75,"y":0.3,"v":5},{"x":0.75,"x2":0.78,"y":0.3,"v":4},{"x":0.78,"x2":0.87,"y":0.3,"v":3},{"x":0.87,"x2":0.9,"y":0.3,"v":1},
{"x":0.12,"x2":0.15,"y":0.33,"v":1},{"x":0.15,"x2":0.18,"y":0.33,"v":2},{"x":0.18,"x2":0.21,"y":0.33,"v":3},{"x":0.21,"x2":0.33,"y":0.33,"v":4},{"x":0.33,"x2":0.39,"y":0.33,"v":6},{"x":0.39,"x2":0.42,"y":0.33,"v":7},{"x":0.42,"x2":0.45,"y":0.33,"v":6},{"x":0.45,"x2":0.48,"y":0.33,"v":8},{"x":0.48,"x2":0.51,"y":0.33,"v":6},{"x":0.51,"x2":0.6,"y":0.33,"v":7},{"x":0.6,"x2":0.63,"y":0.33,"v":6},{"x":0.63,"x2":0.66,"y":0.33,"v":7},{"x":0.66,"x2":0.69,"y":0.33,"v":6},{"x":0.69,"x2":0.72,"y":0.33,"v":4},{"x":0.72,"x2":0.78,"y":0.33,"v":5},{"x":0.78,"x2":0.81,"y":0.33,"v":3},{"x":0.81,"x2":0.84,"y":0.33,"v":4},{"x":0.84,"x2":0.87,"y":0.33,"v":2},{"x":0.87,"x2":0.9,"y":0.33,"v":1},
{"x":0.09,"x2":0.15,"y":0.36,"v":1},{"x":0.15,"x2":0.21,"y":0.36,"v":2},{"x":0.21,"x2":0.27,"y":0.36,"v":4},{"x":0.27,"x2":0.33,"y":0.36,"v":5},{"x":0.33,"x2":0.36,"y":0.36,"v":6},{"x":0.36,"x2":0.39,"y":0.36,"v":7},{"x":0.39,"x2":0.42,"y":0.36,"v":6},{"x":0.42,"x2":0.45,"y":0.36,"v":7},{"x":0.45,"x2":0.48,"y":0.36,"v":8},{"x":0.48,"x2":0.6,"y":0.36,"v":7},{"x":0.6,"x2":0.63,"y":0.36,"v":8},{"x":0.63,"x2":0.69,"y":0.36,"v":7},{"x":0.69,"x2":0.72,"y":0.36,"v":6},{"x":0.72,"x2":0.75,"y":0.36,"v":5},{"x":0.75,"x2":0.78,"y":0.36,"v":4},{"x":0.78,"x2":0.81,"y":0.36,"v":3},{"x":0.81,"x2":0.87,"y":0.36,"v":1},
{"x":0.12,"x2":0.15,"y":0.39,"v":1},{"x":0.15,"x2":0.21,"y":0.39,"v":2},{"x":0.21,"x2":0.27,"y":0.39,"v":4},{"x":0.27,"x2":0.33,"y":0.39,"v":5},{"x":0.33,"x2":0.36,"y":0.39,"v":6},{"x":0.36,"x2":0.39,"y":0.39,"v":7},{"x":0.39,"x2":0.45,"y":0.39,"v":6},{"x":0.45,"x2":0.57,"y":0.39,"v":7},{"x":0.57,"x2":0.69,"y":0.39,"v":6},{"x":0.69,"x2":0.72,"y":0.39,"v":5},{"x":0.72,"x2":0.75,"y":0.39,"v":4},{"x":0.75,"x2":0.78,"y":0.39,"v":3},{"x":0.78,"x2":0.81,"y":0.39,"v":2},{"x":0.81,"x2":0.87,"y":0.39,"v":1},
{"x":0.12,"x2":0.15,"y":0.42,"v":1},{"x":0.15,"x2":0.21,"y":0.42,"v":2},{"x":0.21,"x2":0.24,"y":0.42,"v":3},{"x":0.24,"x2":0.3,"y":0.42,"v":4},{"x":0.3,"x2":0.36,"y":0.42,"v":5},{"x":0.36,"x2":0.39,"y":0.42,"v":6},{"x":0.39,"x2":0.42,"y":0.42,"v":7},{"x":0.42,"x2":0.45,"y":0.42,"v":6},{"x":0.45,"x2":0.54,"y":0.42,"v":7},{"x":0.54,"x2":0.63,"y":0.42,"v":6},{"x":0.63,"x2":0.66,"y":0.42,"v":5},{"x":0.66,"x2":0.69,"y":0.42,"v":4},{"x":0.69,"x2":0.75,"y":0.42,"v":2},{"x":0.75,"x2":0.78,"y":0.42,"v":1},
{"x":0.12,"x2":0.18,"y":0.45,"v":1},{"x":0.18,"x2":0.21,"y":0.45,"v":2},{"x":0.21,"x2":0.27,"y":0.45,"v":4},{"x":0.27,"x2":0.3,"y":0.45,"v":6},{"x":0.3,"x2":0.42,"y":0.45,"v":5},{"x":0.42,"x2":0.48,"y":0.45,"v":6},{"x":0.48,"x2":0.54,"y":0.45,"v":5},{"x":0.54,"x2":0.6,"y":0.45,"v":4},{"x":0.6,"x2":0.63,"y":0.45,"v":3},{"x":0.63,"x2":0.66,"y":0.45,"v":4},{"x":0.66,"x2":0.69,"y":0.45,"v":2},{"x":0.69,"x2":0.75,"y":0.45,"v":1},
{"x":0.12,"x2":0.18,"y":0.48,"v":1},{"x":0.18,"x2":0.21,"y":0.48,"v":2},{"x":0.21,"x2":0.3,"y":0.48,"v":3},{"x":0.3,"x2":0.42,"y":0.48,"v":4},{"x":0.42,"x2":0.45,"y":0.48,"v":5},{"x":0.45,"x2":0.51,"y":0.48,"v":4},{"x":0.51,"x2":0.54,"y":0.48,"v":3},{"x":0.54,"x2":0.57,"y":0.48,"v":4},{"x":0.57,"x2":0.69,"y":0.48,"v":2},{"x":0.69,"x2":0.78,"y":0.48,"v":1},
{"x":0.15,"x2":0.21,"y":0.51,"v":1},{"x":0.21,"x2":0.24,"y":0.51,"v":2},{"x":0.24,"x2":0.33,"y":0.51,"v":3},{"x":0.33,"x2":0.36,"y":0.51,"v":4},{"x":0.36,"x2":0.42,"y":0.51,"v":3},{"x":0.42,"x2":0.48,"y":0.51,"v":2},{"x":0.48,"x2":0.54,"y":0.51,"v":3},{"x":0.54,"x2":0.57,"y":0.51,"v":2},{"x":0.57,"x2":0.69,"y":0.51,"v":1},
{"x":0.15,"x2":0.24,"y":0.54,"v":1},{"x":0.24,"x2":0.27,"y":0.54,"v":2},{"x":0.27,"x2":0.3,"y":0.54,"v":3},{"x":0.3,"x2":0.42,"y":0.54,"v":2},{"x":0.42,"x2":0.57,"y":0.54,"v":1},
{"x":0.15,"x2":0.24,"y":0.57,"v":1},{"x":0.24,"x2":0.36,"y":0.57,"v":2},{"x":0.36,"x2":0.42,"y":0.57,"v":1},
{"x":0.15,"x2":0.36,"y":0.6,"v":1},
{"x":0.18,"x2":0.21,"y":0.63,"v":1},{"x":0.24,"x2":0.3,"y":0.63,"v":1}
],
"f":[
{"x":0.18,"x2":0.33,"y":0.15,"v":1},{"x":0.36,"x2":0.39,"y":0.15,"v":1},
{"x":0.15,"x2":0.24,"y":0.18,"v":1},{"x":0.24,"x2":0.33,"y":0.18,"v":2},{"x":0.33,"x2":0.78,"y":0.18,"v":1},{"x":0.81,"x2":0.87,"y":0.18,"v":1},{"x":0.96,"x2":0.99,"y":0.18,"v":1},
{"x":0.12,"x2":0.15,"y":0.21,"v":1},{"x":0.15,"x2":0.21,"y":0.21,"v":2},{"x":0.21,"x2":0.33,"y":0.21,"v":3},{"x":0.33,"x2":0.36,"y":0.21,"v":2},{"x":0.36,"x2":0.39,"y":0.21,"v":3},{"x":0.39,"x2":0.42,"y":0.21,"v":2},{"x":0.42,"x2":0.48,"y":0.21,"v":3},{"x":0.48,"x2":0.69,"y":0.21,"v":2},{"x":0.69,"x2":0.78,"y":0.21,"v":3},{"x":0.78,"x2":0.87,"y":0.21,"v":2},{"x":0.87,"x2":0.99,"y":0.21,"v":1},
{"x":0.09,"x2":0.15,"y":0.24,"v":1},{"x":0.15,"x2":0.18,"y":0.24,"v":2},{"x":0.18,"x2":0.24,"y":0.24,"v":3},{"x":0.24,"x2":0.33,"y":0.24,"v":4},{"x":0.33,"x2":0.39,"y":0.24,"v":5},{"x":0.39,"x2":0.42,"y":0.24,"v":4},{"x":0.42,"x2":0.45,"y":0.24,"v":3},{"x":0.45,"x2":0.72,"y":0.24,"v":4},{"x":0.72,"x2":0.81,"y":0.24,"v":3},{"x":0.81,"x2":0.84,"y":0.24,"v":4},{"x":0.84,"x2":0.99,"y":0.24,"v":3},{"x":0.99,"x2":1.02,"y":0.24,"v":2},
{"x":0.09,"x2":0.15,"y":0.27,"v":1},{"x":0.15,"x2":0.18,"y":0.27,"v":2},{"x":0.18,"x2":0.21,"y":0.27,"v":3},{"x":0.21,"x2":0.24,"y":0.27,"v":4},{"x":0.24,"x2":0.3,"y":0.27,"v":5},{"x":0.3,"x2":0.36,"y":0.27,"v":6},{"x":0.36,"x2":0.39,"y":0.27,"v":5},{"x":0.39,"x2":0.48,"y":0.27,"v":6},{"x":0.48,"x2":0.51,"y":0.27,"v":7},{"x":0.51,"x2":0.54,"y":0.27,"v":6},{"x":0.54,"x2":0.57,"y":0.27,"v":5},{"x":0.57,"x2":0.6,"y":0.27,"v":6},{"x":0.6,"x2":0.78,"y":0.27,"v":5},{"x":0.78,"x2":0.81,"y":0.27,"v":4},{"x":0.81,"x2":0.87,"y":0.27,"v":5},{"x":0.87,"x2":0.93,"y":0.27,"v":4},{"x":0.93,"x2":0.99,"y":0.27,"v":5},{"x":0.99,"x2":1.02,"y":0.27,"v":2},
{"x":0.12,"x2":0.15,"y":0.3,"v":2},{"x":0.15,"x2":0.18,"y":0.3,"v":3},{"x":0.18,"x2":0.24,"y":0.3,"v":4},{"x":0.24,"x2":0.27,"y":0.3,"v":5},{"x":0.27,"x2":0.36,"y":0.3,"v":7},{"x":0.36,"x2":0.45,"y":0.3,"v":8},{"x":0.45,"x2":0.48,"y":0.3,"v":9},{"x":0.48,"x2":0.57,"y":0.3,"v":7},{"x":0.57,"x2":0.6,"y":0.3,"v":6},{"x":0.6,"x2":0.63,"y":0.3,"v":7},{"x":0.63,"x2":0.72,"y":0.3,"v":6},{"x":0.72,"x2":0.75,"y":0.3,"v":5},{"x":0.75,"x2":0.78,"y":0.3,"v":6},{"x":0.78,"x2":0.84,"y":0.3,"v":5},{"x":0.84,"x2":0.87,"y":0.3,"v":4},{"x":0.87,"x2":0.93,"y":0.3,"v":5},{"x":0.93,"x2":0.96,"y":0.3,"v":6},{"x":0.96,"x2":0.99,"y":0.3,"v":7},{"x":0.99,"x2":1.02,"y":0.3,"v":4},
{"x":0.12,"x2":0.15,"y":0.33,"v":2},{"x":0.15,"x2":0.18,"y":0.33,"v":3},{"x":0.18,"x2":0.21,"y":0.33,"v":4},{"x":0.21,"x2":0.24,"y":0.33,"v":5},{"x":0.24,"x2":0.27,"y":0.33,"v":6},{"x":0.27,"x2":0.3,"y":0.33,"v":7},{"x":0.3,"x2":0.33,"y":0.33,"v":8},{"x":0.33,"x2":0.36,"y":0.33,"v":7},{"x":0.36,"x2":0.45,"y":0.33,"v":8},{"x":0.45,"x2":0.48,"y":0.33,"v":7},{"x":0.48,"x2":0.51,"y":0.33,"v":9},{"x":0.51,"x2":0.54,"y":0.33,"v":8},{"x":0.54,"x2":0.63,"y":0.33,"v":7},{"x":0.63,"x2":0.84,"y":0.33,"v":6},{"x":0.84,"x2":0.87,"y":0.33,"v":5},{"x":0.87,"x2":0.9,"y":0.33,"v":7},{"x":0.9,"x2":0.93,"y":0.33,"v":6},{"x":0.93,"x2":0.96,"y":0.33,"v":8},{"x":0.96,"x2":0.99,"y":0.33,"v":9},{"x":0.99,"x2":1.02,"y":0.33,"v":5},
{"x":0.12,"x2":0.15,"y":0.36,"v":1},{"x":0.15,"x2":0.18,"y":0.36,"v":3},{"x":0.18,"x2":0.21,"y":0.36,"v":4},{"x":0.21,"x2":0.27,"y":0.36,"v":5},{"x":0.27,"x2":0.3,"y":0.36,"v":7},{"x":0.3,"x2":0.33,"y":0.36,"v":6},{"x":0.33,"x2":0.42,"y":0.36,"v":7},{"x":0.42,"x2":0.45,"y":0.36,"v":8},{"x":0.45,"x2":0.57,"y":0.36,"v":7},{"x":0.57,"x2":0.66,"y":0.36,"v":6},{"x":0.66,"x2":0.75,"y":0.36,"v":5},{"x":0.75,"x2":0.84,"y":0.36,"v":4},{"x":0.84,"x2":0.9,"y":0.36,"v":5},{"x":0.9,"x2":0.93,"y":0.36,"v":7},{"x":0.93,"x2":0.96,"y":0.36,"v":8},{"x":0.96,"x2":0.99,"y":0.36,"v":11},{"x":0.99,"x2":1.02,"y":0.36,"v":8},
{"x":0.12,"x2":0.15,"y":0.39,"v":1},{"x":0.15,"x2":0.18,"y":0.39,"v":2},{"x":0.18,"x2":0.21,"y":0.39,"v":4},{"x":0.21,"x2":0.27,"y":0.39,"v":5},{"x":0.27,"x2":0.39,"y":0.39,"v":6},{"x":0.39,"x2":0.45,"y":0.39,"v":7},{"x":0.45,"x2":0.48,"y":0.39,"v":6},{"x":0.48,"x2":0.51,"y":0.39,"v":5},{"x":0.51,"x2":0.54,"y":0.39,"v":6},{"x":0.54,"x2":0.63,"y":0.39,"v":5},{"x":0.63,"x2":0.66,"y":0.39,"v":4},{"x":0.66,"x2":0.84,"y":0.39,"v":3},{"x":0.84,"x2":0.87,"y":0.39,"v":2},{"x":0.87,"x2":0.9,"y":0.39,"v":3},{"x":0.9,"x2":0.93,"y":0.39,"v":2},{"x":0.93,"x2":0.96,"y":0.39,"v":3},{"x":0.96,"x2":0.99,"y":0.39,"v":7},{"x":0.99,"x2":1.02,"y":0.39,"v":8},
{"x":0.12,"x2":0.15,"y":0.42,"v":1},{"x":0.15,"x2":0.18,"y":0.42,"v":2},{"x":0.18,"x2":0.24,"y":0.42,"v":3},{"x":0.24,"x2":0.36,"y":0.42,"v":4},{"x":0.36,"x2":0.39,"y":0.42,"v":5},{"x":0.39,"x2":0.42,"y":0.42,"v":4},{"x":0.42,"x2":0.51,"y":0.42,"v":5},{"x":0.51,"x2":0.57,"y":0.42,"v":4},{"x":0.57,"x2":0.66,"y":0.42,"v":3},{"x":0.66,"x2":0.75,"y":0.42,"v":2},{"x":0.75,"x2":0.96,"y":0.42,"v":1},{"x":0.96,"x2":0.99,"y":0.42,"v":2},{"x":0.99,"x2":1.02,"y":0.42,"v":3},
{"x":0.12,"x2":0.18,"y":0.45,"v":1},{"x":0.18,"x2":0.27,"y":0.45,"v":2},{"x":0.27,"x2":0.3,"y":0.45,"v":3},{"x":0.3,"x2":0.42,"y":0.45,"v":4},{"x":0.42,"x2":0.45,"y":0.45,"v":3},{"x":0.45,"x2":0.48,"y":0.45,"v":4},{"x":0.48,"x2":0.57,"y":0.45,"v":3},{"x":0.57,"x2":0.66,"y":0.45,"v":2},{"x":0.66,"x2":0.78,"y":0.45,"v":1},{"x":0.87,"x2":1.02,"y":0.45,"v":1},
{"x":0.12,"x2":0.21,"y":0.48,"v":1},{"x":0.21,"x2":0.24,"y":0.48,"v":2},{"x":0.24,"x2":0.27,"y":0.48,"v":1},{"x":0.27,"x2":0.33,"y":0.48,"v":2},{"x":0.33,"x2":0.39,"y":0.48,"v":1},{"x":0.39,"x2":0.42,"y":0.48,"v":3},{"x":0.42,"x2":0.45,"y":0.48,"v":2},{"x":0.45,"x2":0.48,"y":0.48,"v":3},{"x":0.48,"x2":0.63,"y":0.48,"v":2},{"x":0.63,"x2":0.66,"y":0.48,"v":1},{"x":0.66,"x2":0.69,"y":0.48,"v":2},{"x":0.69,"x2":0.78,"y":0.48,"v":1},{"x":0.96,"x2":1.02,"y":0.48,"v":1},
{"x":0.15,"x2":0.27,"y":0.51,"v":1},{"x":0.27,"x2":0.33,"y":0.51,"v":2},{"x":0.33,"x2":0.72,"y":0.51,"v":1},{"x":0.96,"x2":1.02,"y":0.51,"v":1},
{"x":0.21,"x2":0.39,"y":0.54,"v":1},{"x":0.42,"x2":0.48,"y":0.54,"v":1},{"x":0.51,"x2":0.57,"y":0.54,"v":1}
],
"cb":[{"lo":0,"hi":0.667,"v":0},{"lo":0.667,"hi":1.333,"v":1},{"lo":1.333,"hi":2,"v":2},{"lo":2,"hi":2.667,"v":3},{"lo":2.667,"hi":3.333,"v":4},{"lo":3.333,"hi":4,"v":5},{"lo":4,"hi":4.667,"v":6},{"lo":4.667,"hi":5.333,"v":7},{"lo":5.333,"hi":6,"v":8},{"lo":6,"hi":6.667,"v":9},{"lo":6.667,"hi":7.333,"v":10},{"lo":7.333,"hi":8,"v":11}]
},
"hconcat":[{"spacing":22,"vconcat":[
{"hconcat":[
{"width":303,"height":282,"resolve":{"axis":{"y":"independent"}},"layer":[
{"data":{"name":"a"},"mark":{"type":"rect","height":8.5,"yOffset":-4.2,"strokeWidth":0.4},"encoding":{"x":{"field":"x","type":"quantitative","scale":{"domain":[0,1.033]},"title":"CLOUD COVER","axis":{"values":[0,0.2,0.4,0.6,0.8,1],"format":"~g","titlePadding":4}},"x2":{"field":"x2"},"y":{"field":"y","type":"quantitative","scale":{"domain":[0,1.007]},"title":"CLOUD REFLECTANCE","axis":{"values":[0,0.1,0.2,0.3,0.4,0.5,0.6,0.7,0.8,0.9,1],"format":"~g","titlePadding":6}},"color":{"field":"v","type":"ordinal","legend":null,"scale":{"domain":[0,1,2,3,4,5,6,7,8,9,10,11]}},"stroke":{"field":"v","type":"ordinal","legend":null,"scale":{"domain":[0,1,2,3,4,5,6,7,8,9,10,11]}}}},
{"data":{"values":[{"x":-0.126,"y":1.05,"t":"(a)"}]},"mark":{"type":"text","font":"Liberation Serif","fontWeight":"bold","fontSize":21,"align":"left"},"encoding":{"x":{"field":"x","type":"quantitative","scale":{"domain":[0,1.033]}},"y":{"field":"y","type":"quantitative","scale":{"domain":[0,1.007]},"axis":{"orient":"right","labels":false,"title":null,"ticks":true,"tickSize":-4,"tickColor":"#333","values":[0.1,0.2,0.3,0.4,0.5,0.6,0.7,0.8,0.9,1]}},"text":{"field":"t"}}},
{"data":{"values":[{"x":0.505,"y":1.046,"t":"OBS"}]},"mark":{"type":"text","fontSize":19,"color":"#222"},"encoding":{"x":{"field":"x","type":"quantitative","scale":{"domain":[0,1.033]}},"y":{"field":"y","type":"quantitative","scale":{"domain":[0,1.007]},"axis":null},"text":{"field":"t"}}},
{"data":{"values":[{"x":-0.21,"y":0.546,"t":"INSTANTANEOUS"}]},"mark":{"type":"text","fontSize":20.5,"angle":270},"encoding":{"x":{"field":"x","type":"quantitative","scale":{"domain":[0,1.033]}},"y":{"field":"y","type":"quantitative","scale":{"domain":[0,1.007]},"axis":null},"text":{"field":"t"}}}
]},
{"width":301,"height":282,"resolve":{"axis":{"y":"independent"}},"layer":[
{"data":{"name":"b"},"mark":{"type":"rect","height":8.5,"yOffset":-4.2,"strokeWidth":0.4},"encoding":{"x":{"field":"x","type":"quantitative","scale":{"domain":[0,1.033]},"title":"CLOUD COVER","axis":{"values":[0,0.2,0.4,0.6,0.8,1],"format":"~g","titlePadding":4}},"x2":{"field":"x2"},"y":{"field":"y","type":"quantitative","scale":{"domain":[0,1.007]},"title":"CLOUD REFLECTANCE","axis":{"values":[0,0.1,0.2,0.3,0.4,0.5,0.6,0.7,0.8,0.9,1],"format":"~g","titlePadding":6}},"color":{"field":"v","type":"ordinal","legend":null,"scale":{"domain":[0,1,2,3,4,5,6,7,8,9,10,11]}},"stroke":{"field":"v","type":"ordinal","legend":null,"scale":{"domain":[0,1,2,3,4,5,6,7,8,9,10,11]}}}},
{"data":{"values":[{"x":-0.151,"y":1.05,"t":"(b)"}]},"mark":{"type":"text","font":"Liberation Serif","fontWeight":"bold","fontSize":21,"align":"left"},"encoding":{"x":{"field":"x","type":"quantitative","scale":{"domain":[0,1.033]}},"y":{"field":"y","type":"quantitative","scale":{"domain":[0,1.007]},"axis":{"orient":"right","labels":false,"title":null,"ticks":true,"tickSize":-4,"tickColor":"#333","values":[0.1,0.2,0.3,0.4,0.5,0.6,0.7,0.8,0.9,1]}},"text":{"field":"t"}}},
{"data":{"values":[{"x":0.5,"y":1.057,"t":"LMDZ5A"}]},"mark":{"type":"text","fontSize":19,"color":"#222"},"encoding":{"x":{"field":"x","type":"quantitative","scale":{"domain":[0,1.033]}},"y":{"field":"y","type":"quantitative","scale":{"domain":[0,1.007]},"axis":null},"text":{"field":"t"}}}
]},
{"width":301,"height":282,"resolve":{"axis":{"y":"independent"}},"layer":[
{"data":{"name":"c"},"mark":{"type":"rect","strokeWidth":0.4},"encoding":{"x":{"field":"x","type":"quantitative","scale":{"domain":[0,1.033]},"title":"CLOUD COVER","axis":{"values":[0,0.2,0.4,0.6,0.8,1],"format":"~g","titlePadding":4}},"x2":{"field":"x2"},"y":{"field":"y","type":"quantitative","scale":{"domain":[0,1.007]},"title":"CLOUD REFLECTANCE","axis":{"values":[0,0.1,0.2,0.3,0.4,0.5,0.6,0.7,0.8,0.9,1],"format":"~g","titlePadding":6}},"y2":{"field":"y2"},"color":{"field":"v","type":"ordinal","legend":null,"scale":{"domain":[0,1,2,3,4,5,6,7,8,9,10,11]}},"stroke":{"field":"v","type":"ordinal","legend":null,"scale":{"domain":[0,1,2,3,4,5,6,7,8,9,10,11]}}}},
{"data":{"values":[{"x":-0.159,"y":1.05,"t":"(c)"}]},"mark":{"type":"text","font":"Liberation Serif","fontWeight":"bold","fontSize":21,"align":"left"},"encoding":{"x":{"field":"x","type":"quantitative","scale":{"domain":[0,1.033]}},"y":{"field":"y","type":"quantitative","scale":{"domain":[0,1.007]},"axis":{"orient":"right","labels":false,"title":null,"ticks":true,"tickSize":-4,"tickColor":"#333","values":[0.1,0.2,0.3,0.4,0.5,0.6,0.7,0.8,0.9,1]}},"text":{"field":"t"}}},
{"data":{"values":[{"x":0.507,"y":1.044,"t":"LMDZ5B"}]},"mark":{"type":"text","fontSize":19,"color":"#222"},"encoding":{"x":{"field":"x","type":"quantitative","scale":{"domain":[0,1.033]}},"y":{"field":"y","type":"quantitative","scale":{"domain":[0,1.007]},"axis":null},"text":{"field":"t"}}}
]}
],"spacing":55,"bounds":"flush"},
{"hconcat":[
{"width":303,"height":281,"resolve":{"axis":{"y":"independent"}},"layer":[
{"data":{"name":"d"},"mark":{"type":"rect","height":8.5,"yOffset":-4.2,"strokeWidth":0.4},"encoding":{"x":{"field":"x","type":"quantitative","scale":{"domain":[0,1.033]},"title":"CLOUD COVER","axis":{"values":[0,0.2,0.4,0.6,0.8,1],"format":"~g","titlePadding":4}},"x2":{"field":"x2"},"y":{"field":"y","type":"quantitative","scale":{"domain":[0,1.007]},"title":"CLOUD REFLECTANCE","axis":{"values":[0,0.1,0.2,0.3,0.4,0.5,0.6,0.7,0.8,0.9,1],"format":"~g","titlePadding":6}},"color":{"field":"v","type":"ordinal","legend":null,"scale":{"domain":[0,1,2,3,4,5,6,7,8,9,10,11]}},"stroke":{"field":"v","type":"ordinal","legend":null,"scale":{"domain":[0,1,2,3,4,5,6,7,8,9,10,11]}}}},
{"data":{"values":[{"x":-0.126,"y":1.057,"t":"(d)"}]},"mark":{"type":"text","font":"Liberation Serif","fontWeight":"bold","fontSize":21,"align":"left"},"encoding":{"x":{"field":"x","type":"quantitative","scale":{"domain":[0,1.033]}},"y":{"field":"y","type":"quantitative","scale":{"domain":[0,1.007]},"axis":{"orient":"right","labels":false,"title":null,"ticks":true,"tickSize":-4,"tickColor":"#333","values":[0.1,0.2,0.3,0.4,0.5,0.6,0.7,0.8,0.9,1]}},"text":{"field":"t"}}},
{"data":{"values":[{"x":0.505,"y":1.05,"t":"OBS"}]},"mark":{"type":"text","fontSize":19,"color":"#222"},"encoding":{"x":{"field":"x","type":"quantitative","scale":{"domain":[0,1.033]}},"y":{"field":"y","type":"quantitative","scale":{"domain":[0,1.007]},"axis":null},"text":{"field":"t"}}},
{"data":{"values":[{"x":-0.21,"y":0.53,"t":"MONTHLY"}]},"mark":{"type":"text","fontSize":20.5,"angle":270},"encoding":{"x":{"field":"x","type":"quantitative","scale":{"domain":[0,1.033]}},"y":{"field":"y","type":"quantitative","scale":{"domain":[0,1.007]},"axis":null},"text":{"field":"t"}}}
]},
{"width":300,"height":281,"resolve":{"axis":{"y":"independent"}},"layer":[
{"data":{"name":"e"},"mark":{"type":"rect","height":8.5,"yOffset":-4.2,"strokeWidth":0.4},"encoding":{"x":{"field":"x","type":"quantitative","scale":{"domain":[0,1.033]},"title":"CLOUD COVER","axis":{"values":[0,0.2,0.4,0.6,0.8,1],"format":"~g","titlePadding":4}},"x2":{"field":"x2"},"y":{"field":"y","type":"quantitative","scale":{"domain":[0,1.007]},"title":"CLOUD REFLECTANCE","axis":{"values":[0,0.1,0.2,0.3,0.4,0.5,0.6,0.7,0.8,0.9,1],"format":"~g","titlePadding":6}},"color":{"field":"v","type":"ordinal","legend":null,"scale":{"domain":[0,1,2,3,4,5,6,7,8,9,10,11]}},"stroke":{"field":"v","type":"ordinal","legend":null,"scale":{"domain":[0,1,2,3,4,5,6,7,8,9,10,11]}}}},
{"data":{"values":[{"x":-0.158,"y":1.057,"t":"(e)"}]},"mark":{"type":"text","font":"Liberation Serif","fontWeight":"bold","fontSize":21,"align":"left"},"encoding":{"x":{"field":"x","type":"quantitative","scale":{"domain":[0,1.033]}},"y":{"field":"y","type":"quantitative","scale":{"domain":[0,1.007]},"axis":{"orient":"right","labels":false,"title":null,"ticks":true,"tickSize":-4,"tickColor":"#333","values":[0.1,0.2,0.3,0.4,0.5,0.6,0.7,0.8,0.9,1]}},"text":{"field":"t"}}},
{"data":{"values":[{"x":0.491,"y":1.064,"t":"LMDZ5A"}]},"mark":{"type":"text","fontSize":19,"color":"#222"},"encoding":{"x":{"field":"x","type":"quantitative","scale":{"domain":[0,1.033]}},"y":{"field":"y","type":"quantitative","scale":{"domain":[0,1.007]},"axis":null},"text":{"field":"t"}}}
]},
{"width":302,"height":281,"resolve":{"axis":{"y":"independent"}},"layer":[
{"data":{"name":"f"},"mark":{"type":"rect","height":8.5,"yOffset":-4.2,"strokeWidth":0.4},"encoding":{"x":{"field":"x","type":"quantitative","scale":{"domain":[0,1.033]},"title":"CLOUD COVER","axis":{"values":[0,0.2,0.4,0.6,0.8,1],"format":"~g","titlePadding":4}},"x2":{"field":"x2"},"y":{"field":"y","type":"quantitative","scale":{"domain":[0,1.007]},"title":"CLOUD REFLECTANCE","axis":{"values":[0,0.1,0.2,0.3,0.4,0.5,0.6,0.7,0.8,0.9,1],"format":"~g","titlePadding":6}},"color":{"field":"v","type":"ordinal","legend":null,"scale":{"domain":[0,1,2,3,4,5,6,7,8,9,10,11]}},"stroke":{"field":"v","type":"ordinal","legend":null,"scale":{"domain":[0,1,2,3,4,5,6,7,8,9,10,11]}}}},
{"data":{"values":[{"x":-0.169,"y":1.057,"t":"(f)"}]},"mark":{"type":"text","font":"Liberation Serif","fontWeight":"bold","fontSize":21,"align":"left"},"encoding":{"x":{"field":"x","type":"quantitative","scale":{"domain":[0,1.033]}},"y":{"field":"y","type":"quantitative","scale":{"domain":[0,1.007]},"axis":{"orient":"right","labels":false,"title":null,"ticks":true,"tickSize":-4,"tickColor":"#333","values":[0.1,0.2,0.3,0.4,0.5,0.6,0.7,0.8,0.9,1]}},"text":{"field":"t"}}},
{"data":{"values":[{"x":0.497,"y":1.05,"t":"LMDZ5B"}]},"mark":{"type":"text","fontSize":19,"color":"#222"},"encoding":{"x":{"field":"x","type":"quantitative","scale":{"domain":[0,1.033]}},"y":{"field":"y","type":"quantitative","scale":{"domain":[0,1.007]},"axis":null},"text":{"field":"t"}}}
]}
],"spacing":57,"bounds":"flush"}
]},
{"width":32,"height":645,"view":{"stroke":null},"layer":[
{"data":{"name":"cb"},"mark":"rect","encoding":{"y":{"field":"lo","type":"quantitative","scale":{"domain":[-0.872,9.167]},"axis":{"orient":"right","values":[0,1,2,3,4,5,6,7,8],"format":"d","labelFontSize":16,"labelFontWeight":"bold","labelColor":"#111","labelPadding":5,"title":null}},"y2":{"field":"hi"},"color":{"field":"v","type":"ordinal","legend":null,"scale":{"domain":[0,1,2,3,4,5,6,7,8,9,10,11]}}}},
{"data":{"values":[{"lo":0,"hi":8}]},"mark":{"type":"rect","fill":null,"stroke":"#555","strokeWidth":1.2},"encoding":{"y":{"field":"lo","type":"quantitative","scale":{"domain":[-0.872,9.167]}},"y2":{"field":"hi"}}},
{"data":{"values":[{"x":0.9,"y":8.19,"t":"x 10"}]},"mark":{"type":"text","fontSize":17,"fontWeight":"bold","align":"left","color":"#111"},"encoding":{"x":{"field":"x","type":"quantitative","scale":{"domain":[0,1]},"axis":null},"y":{"field":"y","type":"quantitative","scale":{"domain":[-0.872,9.167]}},"text":{"field":"t"}}},
{"data":{"values":[{"x":2.03,"y":8.34,"t":"-3"}]},"mark":{"type":"text","fontSize":12,"fontWeight":"bold","align":"left","color":"#111"},"encoding":{"x":{"field":"x","type":"quantitative","scale":{"domain":[0,1]},"axis":null},"y":{"field":"y","type":"quantitative","scale":{"domain":[-0.872,9.167]}},"text":{"field":"t"}}}
]}
]}
